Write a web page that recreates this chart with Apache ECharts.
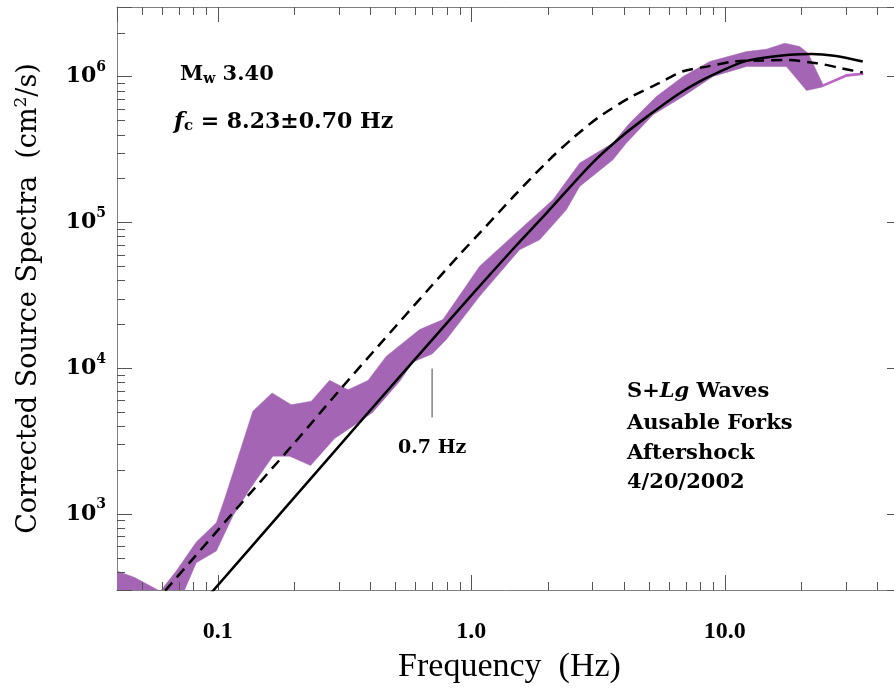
<!DOCTYPE html>
<html><head><meta charset="utf-8">
<script src="https://cdn.jsdelivr.net/npm/echarts@6/dist/echarts.min.js"></script>
<style>html,body{margin:0;padding:0;background:#fff}#c{width:894px;height:689px}</style>
</head><body><div id="c"></div>
<script>
// ---- axis ranges & ticks ----
const xMin = 0.04, xMax = 50;
const yMin = 300, yMax = 3e6;
const xTickLabels = {'-1': '0.1', '0': '1.0', '1': '10.0'};
const yTickExponents = [3, 4, 5, 6];
const xMinorTicks = [0.05,0.06,0.07,0.08,0.09,0.2,0.3,0.4,0.5,0.6,0.7,0.8,0.9,2,3,4,5,6,7,8,9,20,30,40];
const yMinorTicks = [400,500,600,700,800,900,2000,3000,4000,5000,6000,7000,8000,9000,
  20000,30000,40000,50000,60000,70000,80000,90000,200000,300000,400000,500000,600000,700000,800000,900000,2000000];

// ---- observed spectrum band (purple) ----
const bandUpperFreq = [0.04,0.047,0.058,0.0589,0.0598,0.0685,0.0822,0.0986,0.1062,0.1182,0.1374,0.1636,0.1949,0.2337,0.276,0.326,0.391,0.462,0.625,0.7725,1.078,1.551,2.099,2.676,3.62,4.215,5.37,6.84,8.72,12.17,14.59,17.24,19.75,21.3,24.4,30.2,35.1];
const bandUpperVal  = [405,365,300,280,300,405,640,869,1256,2239,5060,6745,5600,5920,8240,7090,8210,12050,18360,21500,49900,88900,142900,255000,349600,479700,729600,1000000,1267000,1483000,1540000,1694000,1606000,1446000,880000,1035000,1060000];
const bandLowerFreq = [0.04,0.07,0.0739,0.0822,0.0986,0.1146,0.1334,0.1648,0.1919,0.2321,0.2887,0.341,0.4077,0.521,0.589,0.7,0.797,1.078,1.551,1.861,2.371,2.676,3.62,4.09,5.21,6.84,8.98,12.17,17.5,21.0,24.08,30.2,35.1];
const bandLowerVal  = [150,150,300,462,555,964,1470,2486,2486,2147,3287,3991,4955,8080,11000,12500,15680,31060,64900,75980,122000,176200,268500,349600,546500,729600,1000000,1171000,1171000,802000,846000,1000000,1030000];
// thin high-frequency tail of the observed spectrum
const tailFreq = [24.2, 30.2, 35.1];
const tailVal  = [862000, 1017000, 1045000];

// ---- model fits ----
const solidFreq = [0.09,0.2,0.4,0.7,1.0,1.5,2.0,3.0,4.0,5.0,6.5,8.0,10,12,15,18,22,27,35];
const solidVal  = [262,1290,5150,15600,31500,69000,118000,255000,400000,540000,750000,930000,1120000,1270000,1360000,1410000,1430000,1390000,1270000];
const dashFreq = [0.05,0.0626,0.12,0.2,0.3,0.43,0.7,0.9,1.08,1.5,2.0,2.5,3.2,4.3,5.5,6.8,8.5,10.8,14,17,23,29,35];
const dashVal  = [193,303,1110,3050,6950,14200,37000,60200,84500,156500,262000,375000,530000,730000,900000,1082000,1170000,1267000,1287000,1300000,1235000,1138000,1065000];

// ---- 0.7 Hz marker ----
const markerFreq = [0.7, 0.7];
const markerVal = [9920, 4580];

const SERIF = "'DejaVu Serif', serif";
const TIMES = "'Liberation Serif', serif";
const TICK = '#555';
const pairs = (a, b) => a.map((v, i) => [v, b[i]]);

const chart = echarts.init(document.getElementById('c'), null, {renderer: 'canvas'});

function isPow10(v) { const e = Math.log10(v); return Math.abs(e - Math.round(e)) < 1e-6; }

const xAxisBase = {
  type: 'log', logBase: 10, min: xMin, max: xMax,
  axisLine: {show: true, lineStyle: {color: '#808080', width: 1}},
  axisTick: {show: true, inside: true, length: 15, lineStyle: {color: TICK, width: 1}},
  splitLine: {show: false}, minorTick: {show: false}
};
const yAxisBase = {
  type: 'log', logBase: 10, min: yMin, max: yMax,
  axisLine: {show: true, lineStyle: {color: '#808080', width: 1}},
  axisTick: {show: true, inside: true, length: 15, lineStyle: {color: TICK, width: 1}},
  splitLine: {show: false}, minorTick: {show: false}
};

function minorTickSeries() {
  return {
    type: 'custom', coordinateSystem: 'cartesian2d', silent: true, z: 5,
    data: [[xMinorTicks[0], yMinorTicks[0]]],
    renderItem: function (params, api) {
      const cs = params.coordSys;
      const ch = [];
      const st = {stroke: TICK, lineWidth: 1};
      xMinorTicks.forEach(v => {
        const x = Math.round(api.coord([v, yMinorTicks[0]])[0]) + 0.5;
        ch.push({type: 'line', shape: {x1: x, y1: cs.y + cs.height, x2: x, y2: cs.y + cs.height - 8}, style: st});
        ch.push({type: 'line', shape: {x1: x, y1: cs.y, x2: x, y2: cs.y + 8}, style: st});
      });
      yMinorTicks.forEach(v => {
        const y = Math.round(api.coord([xMinorTicks[0], v])[1]) + 0.5;
        ch.push({type: 'line', shape: {x1: cs.x, y1: y, x2: cs.x + 8, y2: y}, style: st});
        ch.push({type: 'line', shape: {x1: cs.x + cs.width, y1: y, x2: cs.x + cs.width - 8, y2: y}, style: st});
      });
      return {type: 'group', children: ch};
    }
  };
}

const option = {
  animation: false,
  backgroundColor: '#fff',
  grid: {left: 117, top: 7, width: 785, height: 583, containLabel: false, outerBoundsMode: 'none'},
  xAxis: [
    Object.assign({}, xAxisBase, {
      position: 'bottom',
      axisLabel: {
        margin: 30, color: '#000', fontFamily: TIMES, fontWeight: 'bold', fontSize: 24,
        formatter: v => isPow10(v) ? (xTickLabels[String(Math.round(Math.log10(v)))] || '') : ''
      },
      name: 'Frequency  (Hz)', nameLocation: 'middle', nameGap: 60,
      nameTextStyle: {color: '#000', fontFamily: TIMES, fontSize: 34}
    }),
    Object.assign({}, xAxisBase, {position: 'top', axisLabel: {show: false}})
  ],
  yAxis: [
    Object.assign({}, yAxisBase, {
      position: 'left',
      axisLabel: {
        margin: 11, color: '#000',
        formatter: v => {
          if (!isPow10(v)) return '';
          const e = Math.round(Math.log10(v));
          return yTickExponents.indexOf(e) >= 0 ? '{b|10}{s|' + e + '}' : '';
        },
        rich: {
          b: {fontFamily: SERIF, fontWeight: 'bold', fontSize: 22, color: '#000'},
          s: {fontFamily: SERIF, fontWeight: 'bold', fontSize: 14, color: '#000', padding: [0, 0, 18, 0]}
        }
      },
      name: 'Corrected Source Spectra  (cm{sup|2}/s)', nameLocation: 'middle', nameGap: 73,
      nameTextStyle: {
        color: '#000', fontFamily: SERIF, fontSize: 27,
        rich: {sup: {fontFamily: SERIF, fontSize: 17, color: '#000', padding: [0, 0, 14, 0]}}
      }
    }),
    Object.assign({}, yAxisBase, {position: 'right', axisLabel: {show: false}})
  ],
  series: [
    {
      type: 'custom', coordinateSystem: 'cartesian2d', clip: true, silent: true, z: 1,
      data: pairs(bandUpperFreq, bandUpperVal),
      renderItem: function (params, api) {
        if (params.dataIndex !== 0) return null;
        const pts = [];
        for (let i = 0; i < bandUpperFreq.length; i++) pts.push(api.coord([bandUpperFreq[i], bandUpperVal[i]]));
        for (let i = bandLowerFreq.length - 1; i >= 0; i--) pts.push(api.coord([bandLowerFreq[i], bandLowerVal[i]]));
        const cs = params.coordSys;
        return {
          type: 'group',
          clipPath: {type: 'rect', shape: {x: cs.x, y: cs.y, width: cs.width, height: cs.height}},
          children: [{type: 'polygon', shape: {points: pts}, style: {fill: '#a466b4', stroke: '#a466b4', lineWidth: 0.5}}]
        };
      }
    },
    {
      type: 'line', data: pairs(tailFreq, tailVal), showSymbol: false, z: 2,
      lineStyle: {color: '#c262c9', width: 2}
    },
    {
      type: 'line', data: pairs(dashFreq, dashVal), showSymbol: false, smooth: 0.3, clip: true, z: 3,
      lineStyle: {color: '#000', width: 2.5, type: [11, 7]}
    },
    {
      type: 'line', data: pairs(solidFreq, solidVal), showSymbol: false, smooth: 0.3, clip: true, z: 4,
      lineStyle: {color: '#000', width: 2.5}
    },
    {
      type: 'line', data: pairs(markerFreq, markerVal), showSymbol: false, z: 4,
      lineStyle: {color: '#444', width: 1}
    },
    minorTickSeries()
  ],
  graphic: [
    {type: 'text', x: 180, y: 75, style: {
      text: '{a|M}{w|w}{a| 3.40}', verticalAlign: 'middle',
      rich: {a: {fontFamily: SERIF, fontWeight: 'bold', fontSize: 21, fill: '#000'},
             w: {fontFamily: SERIF, fontWeight: 'bold', fontSize: 14, fill: '#000', padding: [8, 0, 0, 0]}}
    }},
    {type: 'text', x: 174, y: 122, style: {
      text: '{f|f}{c|c}{a| = 8.23±0.70 Hz}', verticalAlign: 'middle',
      rich: {f: {fontFamily: SERIF, fontWeight: 'bold', fontStyle: 'italic', fontSize: 23, fill: '#000'},
             c: {fontFamily: SERIF, fontWeight: 'bold', fontSize: 15, fill: '#000', padding: [8, 0, 0, 0]},
             a: {fontFamily: SERIF, fontWeight: 'bold', fontSize: 22, fill: '#000'}}
    }},
    {type: 'text', x: 627, y: 392, style: {
      text: '{a|S+}{i|Lg}{a| Waves}', verticalAlign: 'middle',
      rich: {a: {fontFamily: SERIF, fontWeight: 'bold', fontSize: 21, fill: '#000'},
             i: {fontFamily: SERIF, fontWeight: 'bold', fontStyle: 'italic', fontSize: 21, fill: '#000'}}
    }},
    {type: 'text', x: 627, y: 424, style: {text: 'Ausable Forks', verticalAlign: 'middle', font: "bold 21px 'DejaVu Serif'", fill: '#000'}},
    {type: 'text', x: 627, y: 454, style: {text: 'Aftershock', verticalAlign: 'middle', font: "bold 21px 'DejaVu Serif'", fill: '#000'}},
    {type: 'text', x: 627, y: 483, style: {text: '4/20/2002', verticalAlign: 'middle', font: "bold 21px 'DejaVu Serif'", fill: '#000'}},
    {type: 'text', x: 398, y: 448, style: {text: '0.7 Hz', verticalAlign: 'middle', font: "bold 19px 'DejaVu Serif'", fill: '#000'}}
  ]
};
chart.setOption(option);
</script>
</body></html>
